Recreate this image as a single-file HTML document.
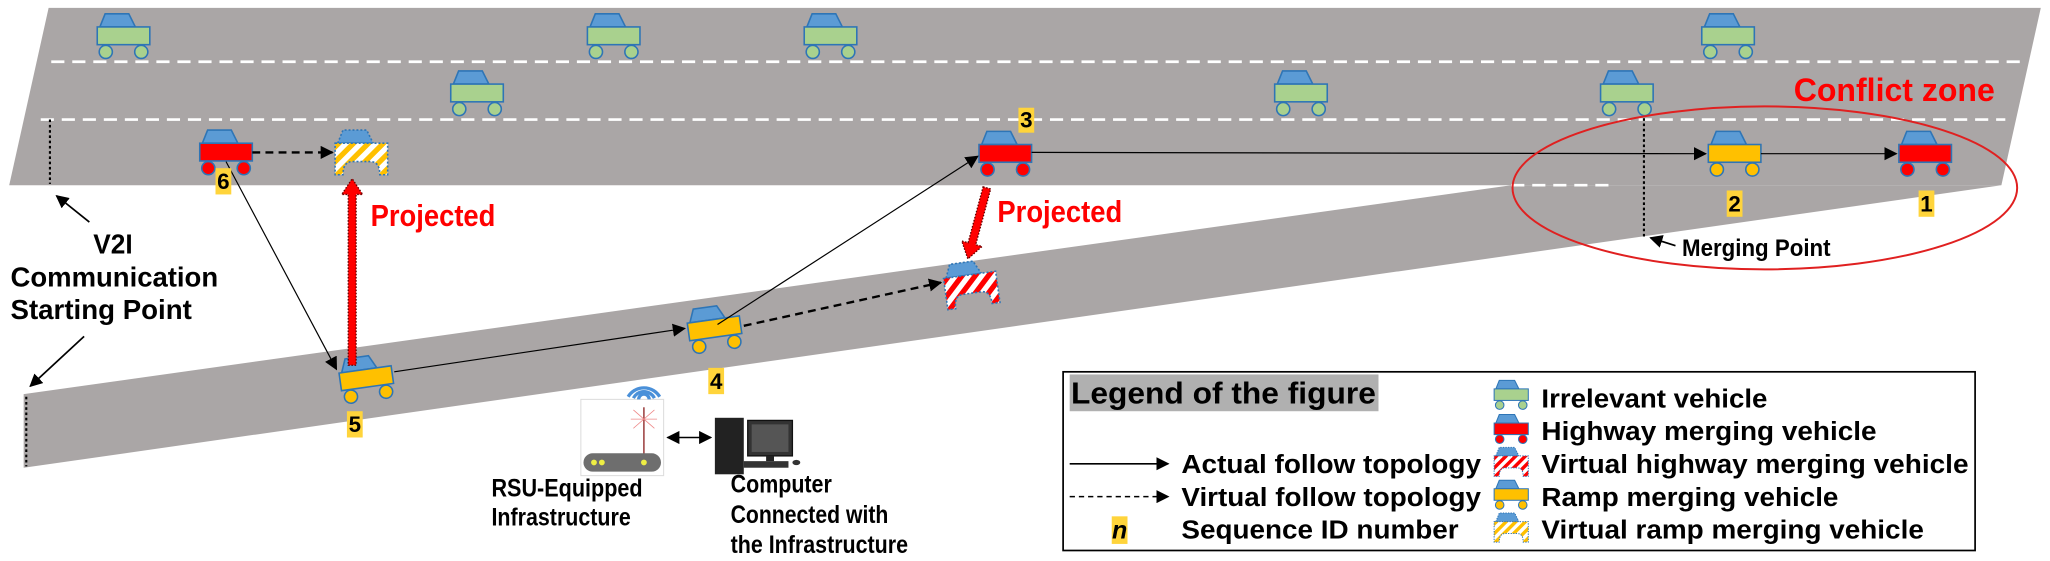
<!DOCTYPE html>
<html><head><meta charset="utf-8"><style>html,body{margin:0;padding:0;background:#fff;}svg{display:block;}</style></head>
<body>
<svg width="2050" height="561" viewBox="0 0 1560 427" preserveAspectRatio="none" xmlns="http://www.w3.org/2000/svg" font-family="'Liberation Sans', Arial, sans-serif" font-weight="bold">
<defs>
<marker id="ah" markerWidth="10" markerHeight="10" refX="9" refY="5" orient="auto" markerUnits="userSpaceOnUse"><path d="M0,0 L10,5 L0,10 Z" fill="#000"/></marker>
<marker id="ah2" markerWidth="10" markerHeight="10" refX="1" refY="5" orient="auto" markerUnits="userSpaceOnUse"><path d="M10,0 L0,5 L10,10 Z" fill="#000"/></marker>
<pattern id="hy" width="8" height="8" patternUnits="userSpaceOnUse" patternTransform="rotate(45)"><rect width="8" height="8" fill="#fff"/><rect width="4" height="8" fill="#ffc000"/></pattern>
<pattern id="hr" width="8" height="8" patternUnits="userSpaceOnUse" patternTransform="rotate(45)"><rect width="8" height="8" fill="#fff"/><rect width="4" height="8" fill="#ff0000"/></pattern>
<g id="cg"><path d="M2,0 L6,-10 L24,-10 L29,0 Z" fill="#5b9bd5" stroke="#2e75b6" stroke-width="1.2"/><rect x="0" y="0" width="40" height="13.5" fill="#a9d18e" stroke="#2e75b6" stroke-width="1.2"/><circle cx="6.5" cy="19" r="5" fill="#a9d18e" stroke="#2e75b6" stroke-width="1.2"/><circle cx="33.5" cy="19" r="5" fill="#a9d18e" stroke="#2e75b6" stroke-width="1.2"/></g>
<g id="cr"><path d="M2,0 L6,-10 L24,-10 L29,0 Z" fill="#5b9bd5" stroke="#2e75b6" stroke-width="1.2"/><rect x="0" y="0" width="40" height="13.5" fill="#ff0000" stroke="#2e75b6" stroke-width="1.2"/><circle cx="6.5" cy="19" r="5" fill="#ff0000" stroke="#2e75b6" stroke-width="1.2"/><circle cx="33.5" cy="19" r="5" fill="#ff0000" stroke="#2e75b6" stroke-width="1.2"/></g>
<g id="cy"><path d="M2,0 L6,-10 L24,-10 L29,0 Z" fill="#5b9bd5" stroke="#2e75b6" stroke-width="1.2"/><rect x="0" y="0" width="40" height="13.5" fill="#ffc000" stroke="#2e75b6" stroke-width="1.2"/><circle cx="6.5" cy="19" r="5" fill="#ffc000" stroke="#2e75b6" stroke-width="1.2"/><circle cx="33.5" cy="19" r="5" fill="#ffc000" stroke="#2e75b6" stroke-width="1.2"/></g>
<g id="vy"><path d="M2,0 L6,-10 L24,-10 L29,0 Z" fill="#5b9bd5" stroke="#2e75b6" stroke-width="1.2" stroke-dasharray="1.5 1.5"/><path d="M0,0 H40 V24 H34 Q34,14 27,14 H13 Q6,14 6,24 H0 Z" fill="url(#hy)" stroke="#2e75b6" stroke-width="1.2" stroke-dasharray="1.5 1.5"/></g>
<g id="vr"><path d="M2,0 L6,-10 L24,-10 L29,0 Z" fill="#5b9bd5" stroke="#2e75b6" stroke-width="1.2" stroke-dasharray="1.5 1.5"/><path d="M0,0 H40 V24 H34 Q34,14 27,14 H13 Q6,14 6,24 H0 Z" fill="url(#hr)" stroke="#2e75b6" stroke-width="1.2" stroke-dasharray="1.5 1.5"/></g>
</defs>

<polygon points="37,6 1553,6 1523,141 7,141" fill="#aaa6a6"/>
<polygon points="18,300 1150,141 1523,141 18,356" fill="#aaa6a6"/>
<line x1="39" y1="47" x2="1537" y2="47" stroke="#fff" stroke-width="2" stroke-dasharray="10 6"/>
<line x1="31" y1="91" x2="1526" y2="91" stroke="#fff" stroke-width="2" stroke-dasharray="10 6"/>
<line x1="1150" y1="141" x2="1225" y2="141" stroke="#fff" stroke-width="2" stroke-dasharray="10 6"/>

<line x1="38" y1="91" x2="38" y2="140" stroke="#000" stroke-width="1.6" stroke-dasharray="2 2"/>
<line x1="20" y1="302" x2="20" y2="355" stroke="#000" stroke-width="1.6" stroke-dasharray="2 2"/>
<line x1="1251" y1="90" x2="1251" y2="181" stroke="#000" stroke-width="1.6" stroke-dasharray="2 2"/>

<use href="#cg" x="74" y="20.5"/>
<use href="#cg" x="447" y="20.5"/>
<use href="#cg" x="612" y="20.5"/>
<use href="#cg" x="1295" y="20.5"/>
<use href="#cg" x="343" y="64"/>
<use href="#cg" x="970" y="64"/>
<use href="#cg" x="1218" y="64"/>

<use href="#cr" x="152" y="109"/>
<use href="#vy" x="255" y="109"/>
<use href="#cr" x="745" y="110"/>
<use href="#cy" x="1300" y="110"/>
<use href="#cr" x="1445" y="110"/>

<use href="#cy" transform="translate(258,284) rotate(-8)"/>
<use href="#cy" transform="translate(523,246) rotate(-8)"/>
<use href="#vr" transform="translate(718,212) rotate(-8)"/>

<line x1="192" y1="116" x2="253" y2="116" stroke="#000" stroke-width="1.8" stroke-dasharray="6 4" marker-end="url(#ah)"/>
<line x1="172" y1="123" x2="256" y2="281" stroke="#000" stroke-width="0.9" marker-end="url(#ah)"/>
<line x1="300" y1="283" x2="521" y2="250" stroke="#000" stroke-width="0.9" marker-end="url(#ah)"/>
<line x1="546" y1="247" x2="744" y2="119" stroke="#000" stroke-width="0.9" marker-end="url(#ah)"/>
<line x1="566" y1="248" x2="716" y2="215" stroke="#000" stroke-width="1.8" stroke-dasharray="6 4" marker-end="url(#ah)"/>
<line x1="785" y1="116" x2="1298" y2="117" stroke="#000" stroke-width="0.9" marker-end="url(#ah)"/>
<line x1="1340" y1="117" x2="1443" y2="117" stroke="#000" stroke-width="0.9" marker-end="url(#ah)"/>

<polygon points="265,278 271,278 271,148 276,148 268,136 260,148 265,148" fill="#ff0000" stroke="#600" stroke-width="1" stroke-dasharray="1.2 1.2"/>
<g transform="translate(751,143) rotate(15)"><polygon points="-3,0 3,0 3,44 8,44 0,56 -8,44 -3,44" fill="#ff0000" stroke="#600" stroke-width="1" stroke-dasharray="1.2 1.2"/></g>
<text x="282" y="172" font-size="23" fill="#ff0000" textLength="95" lengthAdjust="spacingAndGlyphs">Projected</text>
<text x="759" y="169" font-size="23" fill="#ff0000" textLength="95" lengthAdjust="spacingAndGlyphs">Projected</text>

<ellipse cx="1343" cy="143" rx="192" ry="62" fill="none" stroke="#e02020" stroke-width="1.5"/>
<text x="1365" y="77" font-size="25" fill="#ff0000" textLength="153" lengthAdjust="spacingAndGlyphs">Conflict zone</text>
<line x1="1275" y1="187" x2="1256" y2="181" stroke="#000" stroke-width="1.3" marker-end="url(#ah)"/>
<text x="1280" y="195" font-size="18" textLength="113" lengthAdjust="spacingAndGlyphs">Merging Point</text>

<g font-size="17">
<rect x="164" y="128" width="12" height="20" fill="#ffd43b"/><text x="170" y="144" text-anchor="middle">6</text>
<rect x="264" y="313" width="12" height="20" fill="#ffd43b"/><text x="270" y="329" text-anchor="middle">5</text>
<rect x="539" y="280" width="12" height="20" fill="#ffd43b"/><text x="545" y="296" text-anchor="middle">4</text>
<rect x="775" y="82" width="12" height="19" fill="#ffd43b"/><text x="781" y="97" text-anchor="middle">3</text>
<rect x="1314" y="145" width="12" height="20" fill="#ffd43b"/><text x="1320" y="161" text-anchor="middle">2</text>
<rect x="1460" y="145" width="12" height="20" fill="#ffd43b"/><text x="1466" y="161" text-anchor="middle">1</text>
</g>

<line x1="68" y1="169" x2="43" y2="149" stroke="#000" stroke-width="1.3" marker-end="url(#ah)"/>
<text x="86" y="193" font-size="21" text-anchor="middle" textLength="30" lengthAdjust="spacingAndGlyphs">V2I</text>
<text x="87" y="218" font-size="21" text-anchor="middle" textLength="158" lengthAdjust="spacingAndGlyphs">Communication</text>
<text x="77" y="243" font-size="21" text-anchor="middle" textLength="138" lengthAdjust="spacingAndGlyphs">Starting Point</text>
<line x1="64" y1="256" x2="23" y2="294" stroke="#000" stroke-width="1.3" marker-end="url(#ah)"/>

<rect x="442" y="304" width="63" height="58" fill="#fff" stroke="#ddd" stroke-width="0.8"/>
<path d="M478,302 A14,14 0 0 1 502,302" fill="none" stroke="#4a90d9" stroke-width="2.5"/>
<path d="M482,303 A9,9 0 0 1 498,303" fill="none" stroke="#4a90d9" stroke-width="2.5"/>
<path d="M486,304 A4,4 0 0 1 494,304" fill="none" stroke="#4a90d9" stroke-width="2.5"/>
<line x1="490" y1="310" x2="490" y2="348" stroke="#8b2020" stroke-width="1"/>
<g stroke="#e88" stroke-width="0.6"><line x1="482" y1="312" x2="498" y2="326"/><line x1="498" y1="312" x2="482" y2="326"/><line x1="480" y1="319" x2="500" y2="319"/></g>
<rect x="444" y="345" width="59" height="14" rx="7" fill="#6e6e6e"/>
<circle cx="452" cy="352" r="2.2" fill="#ee4"/><circle cx="458" cy="352" r="2.2" fill="#ee4"/><circle cx="490" cy="352" r="2.2" fill="#ee4"/>
<line x1="508" y1="333" x2="541" y2="333" stroke="#000" stroke-width="1.2" marker-start="url(#ah2)" marker-end="url(#ah)"/>
<rect x="544" y="318" width="22" height="43" fill="#222"/>
<rect x="569" y="320" width="34" height="27" fill="#333" stroke="#111"/>
<rect x="572" y="323" width="28" height="21" fill="#555"/>
<rect x="583" y="347" width="6" height="4" fill="#222"/>
<rect x="566" y="351" width="34" height="5" fill="#333"/>
<ellipse cx="606" cy="352" rx="3" ry="2" fill="#333"/>

<g font-size="19">
<text x="374" y="378" textLength="115" lengthAdjust="spacingAndGlyphs">RSU-Equipped</text>
<text x="374" y="400" textLength="106" lengthAdjust="spacingAndGlyphs">Infrastructure</text>
<text x="556" y="375" textLength="77" lengthAdjust="spacingAndGlyphs">Computer</text>
<text x="556" y="398" textLength="120" lengthAdjust="spacingAndGlyphs">Connected with</text>
<text x="556" y="421" textLength="135" lengthAdjust="spacingAndGlyphs">the Infrastructure</text>
</g>

<rect x="809" y="283" width="694" height="136" fill="#fff" stroke="#000" stroke-width="1.3"/>
<rect x="814" y="285" width="235" height="28" fill="#b0b0b0"/>
<text x="815" y="307" font-size="23" textLength="232" lengthAdjust="spacingAndGlyphs">Legend of the figure</text>
<use href="#cg" transform="translate(1137,296) scale(0.65)"/>
<use href="#cr" transform="translate(1137,322) scale(0.65)"/>
<use href="#vr" transform="translate(1137,347) scale(0.65)"/>
<use href="#cy" transform="translate(1137,372) scale(0.65)"/>
<use href="#vy" transform="translate(1137,397) scale(0.65)"/>
<g font-size="20">
<text x="1173" y="310" textLength="172" lengthAdjust="spacingAndGlyphs">Irrelevant vehicle</text>
<text x="1173" y="335" textLength="255" lengthAdjust="spacingAndGlyphs">Highway merging vehicle</text>
<text x="1173" y="360" textLength="325" lengthAdjust="spacingAndGlyphs">Virtual highway merging vehicle</text>
<text x="1173" y="385" textLength="226" lengthAdjust="spacingAndGlyphs">Ramp merging vehicle</text>
<text x="1173" y="410" textLength="291" lengthAdjust="spacingAndGlyphs">Virtual ramp merging vehicle</text>
<text x="899" y="360" textLength="228" lengthAdjust="spacingAndGlyphs">Actual follow topology</text>
<text x="899" y="385" textLength="228" lengthAdjust="spacingAndGlyphs">Virtual follow topology</text>
<text x="899" y="410" textLength="211" lengthAdjust="spacingAndGlyphs">Sequence ID number</text>
</g>
<line x1="814" y1="353" x2="889" y2="353" stroke="#000" stroke-width="1.2" marker-end="url(#ah)"/>
<line x1="814" y1="378" x2="889" y2="378" stroke="#000" stroke-width="1.2" stroke-dasharray="4 3" marker-end="url(#ah)"/>
<rect x="846" y="393" width="12" height="21" fill="#ffd43b"/>
<text x="852" y="410" font-size="19" font-style="italic" text-anchor="middle">n</text>
</svg>
</body></html>
